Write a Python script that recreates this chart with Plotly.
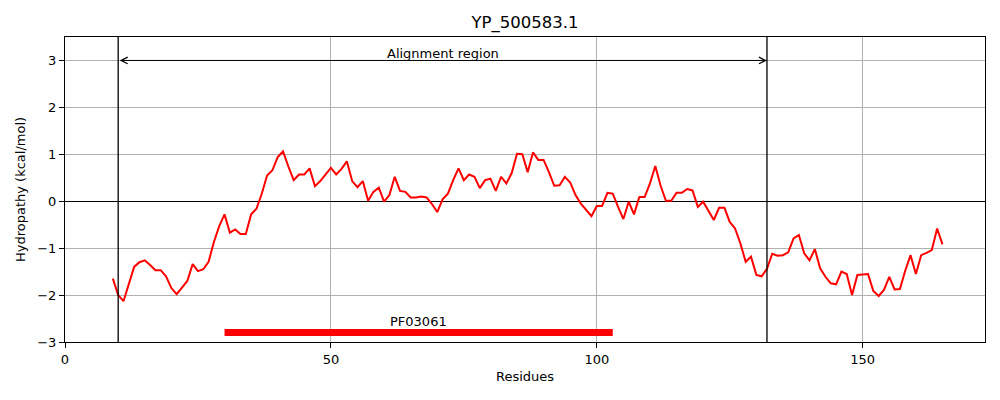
import plotly.graph_objects as go

title = 'YP_500583.1'
residues = list(range(9, 166))
hydropathy = [
    -1.65, -2.00, -2.13, -1.74, -1.40, -1.30, -1.26, -1.36, -1.47, -1.47,
    -1.60, -1.85, -1.98, -1.84, -1.70, -1.34, -1.49, -1.45, -1.29, -0.87,
    -0.53, -0.28, -0.67, -0.60, -0.70, -0.70, -0.28, -0.16, 0.16, 0.55,
    0.66, 0.94, 1.06, 0.74, 0.45, 0.57, 0.57, 0.70, 0.32, 0.43,
    0.57, 0.71, 0.57, 0.69, 0.85, 0.43, 0.30, 0.43, 0.01, 0.20,
    0.29, -0.01, 0.13, 0.52, 0.22, 0.20, 0.08, 0.08, 0.10, 0.08,
    -0.06, -0.23, 0.04, 0.16, 0.45, 0.70, 0.45, 0.57, 0.52, 0.28,
    0.45, 0.48, 0.22, 0.52, 0.38, 0.60, 1.01, 1.00, 0.62, 1.04,
    0.88, 0.88, 0.62, 0.33, 0.34, 0.52, 0.40, 0.13, -0.05, -0.19,
    -0.32, -0.10, -0.10, 0.18, 0.16, -0.12, -0.38, -0.01, -0.28, 0.09,
    0.09, 0.38, 0.75, 0.33, 0.01, 0.01, 0.18, 0.18, 0.26, 0.23,
    -0.12, -0.01, -0.19, -0.40, -0.14, -0.14, -0.44, -0.58, -0.90, -1.29,
    -1.18, -1.57, -1.60, -1.44, -1.12, -1.16, -1.15, -1.09, -0.79, -0.72,
    -1.11, -1.26, -1.02, -1.43, -1.61, -1.75, -1.77, -1.50, -1.55, -2.00,
    -1.57, -1.56, -1.55, -1.91, -2.02, -1.89, -1.61, -1.88, -1.87, -1.48,
    -1.15, -1.55, -1.15, -1.10, -1.04, -0.58, -0.92,
]

# alignment region and Pfam domain
align_start, align_end = 10, 132
align_label = 'Alignment region'
domain_name = 'PF03061'
domain_start, domain_end = 30, 103
domain_y = -2.8

font = 'DejaVu Sans'
grid = '#b0b0b0'

fig = go.Figure()

fig.add_trace(go.Scatter(
    x = residues,
    y = hydropathy,
    mode = 'lines',
    line = {'color': 'red', 'width': 2},
    showlegend = False,
))

fig.add_trace(go.Scatter(
    x = [domain_start, domain_end],
    y = [domain_y, domain_y],
    mode = 'lines',
    line = {'color': 'red', 'width': 7},
    showlegend = False,
))

for x in [align_start, align_end]:
    fig.add_shape(
        type = 'line', xref = 'x', yref = 'paper',
        x0 = x, x1 = x, y0 = 0, y1 = 1,
        line = {'color': 'black', 'width': 1.3},
    )

fig.add_annotation(
    x = align_end, y = 3, ax = align_start, ay = 3,
    xref = 'x', yref = 'y', axref = 'x', ayref = 'y',
    text = '', showarrow = True, arrowside = 'end+start',
    arrowhead = 5, arrowsize = 1.3, arrowwidth = 1, arrowcolor = 'black',
)
fig.add_annotation(
    x = (align_start + align_end) / 2, y = 3,
    text = align_label, showarrow = False,
    yanchor = 'bottom', yshift = -3,
    font = {'family': font, 'size': 13, 'color': 'black'},
)
fig.add_annotation(
    x = (domain_start + domain_end) / 2, y = domain_y,
    text = domain_name, showarrow = False,
    yanchor = 'bottom', yshift = 2,
    font = {'family': font, 'size': 13, 'color': 'black'},
)

axis_common = {
    'showline': True,
    'linecolor': 'black',
    'linewidth': 1,
    'mirror': True,
    'ticks': 'outside',
    'ticklen': 5,
    'tickcolor': 'black',
    'showgrid': True,
    'gridcolor': grid,
    'gridwidth': 1,
    'tickfont': {'family': font, 'size': 13, 'color': 'black'},
}

fig.update_layout(
    width = 1000,
    height = 400,
    plot_bgcolor = 'white',
    paper_bgcolor = 'white',
    margin = {'l': 57, 'r': 23, 't': 29, 'b': 66},
    title = {
        'text': title,
        'x': 0.517, 'xanchor': 'center',
        'y': 0.965, 'yanchor': 'middle',
        'font': {'family': font, 'size': 16.5, 'color': 'black'},
    },
    xaxis = dict(
        axis_common,
        range = [0, 173],
        tickvals = [0, 50, 100, 150],
        zeroline = False,
        title = {'text': 'Residues', 'font': {'family': font, 'size': 13, 'color': 'black'}, 'standoff': 6},
    ),
    yaxis = dict(
        axis_common,
        range = [-3, 3.5],
        tickvals = [-3, -2, -1, 0, 1, 2, 3],
        zeroline = True,
        zerolinecolor = 'black',
        zerolinewidth = 1,
        title = {'text': 'Hydropathy (kcal/mol)', 'font': {'family': font, 'size': 13, 'color': 'black'}, 'standoff': 8},
    ),
)

fig.write_html('out.html')
